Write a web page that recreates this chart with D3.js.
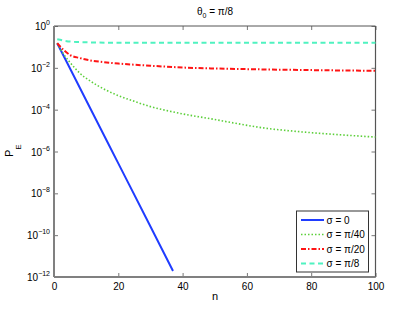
<!DOCTYPE html>
<html><head><meta charset="utf-8">
<script src="https://cdn.jsdelivr.net/npm/d3@7"></script>
<style>body{margin:0;background:#fff}svg{display:block}text{font-family:"Liberation Sans",Arial,sans-serif;fill:#000}</style>
</head><body>
<svg id="c" width="415" height="312"></svg>
<script>
// ---- data ----
const xTicks = [0, 20, 40, 60, 80, 100];
const yTickExps = [0, -2, -4, -6, -8, -10, -12];
const seriesNames = ["σ = 0", "σ = π/40", "σ = π/20", "σ = π/8"];
const nBlue = [1, 10, 20, 30, 37];
const pBlue = [1.5e-1, 2.8e-4, 2.7e-7, 2.6e-10, 1.95e-12];
const nGreen = [1, 3, 5, 8, 11, 16, 20, 25, 30, 35, 42, 50, 55, 65, 77, 89, 100];
const pGreen = [1.5e-1, 4.5e-2, 1.8e-2, 5.6e-3, 2.5e-3, 8.9e-4, 4.7e-4, 2.5e-4, 1.4e-4, 9.1e-5, 5.5e-5, 3.4e-5, 2.45e-5, 1.35e-5, 8.7e-6, 6.3e-6, 4.9e-6];
const nRed = [1, 3, 5, 8, 11, 15, 20, 30, 41, 50, 63, 80, 100];
const pRed = [1.5e-1, 7.1e-2, 4.1e-2, 2.95e-2, 2.3e-2, 1.9e-2, 1.6e-2, 1.26e-2, 1.02e-2, 9.3e-3, 8.5e-3, 7.8e-3, 7.2e-3];
const nCyan = [1, 3, 5, 10, 20, 100];
const pCyan = [2.3e-1, 2.0e-1, 1.8e-1, 1.66e-1, 1.58e-1, 1.58e-1];

// ---- layout ----
const L = 54, R = 375.5, T = 26, B = 277;
const svg = d3.select("#c");
const x = d3.scaleLinear().domain([0, 100]).range([L, R]);
const y = d3.scaleLog().domain([1e-12, 1]).range([B, T]);

const styles = [
  {color: "#1f3cff", dash: null, w: 2},
  {color: "#5ccf3a", dash: "1.5,2", w: 1.6},
  {color: "#ff1414", dash: "5,2,1.5,2", w: 2},
  {color: "#4ff2c0", dash: "5,3.5", w: 2}
];
const data = [
  nBlue.map((n, i) => [n, pBlue[i]]),
  nGreen.map((n, i) => [n, pGreen[i]]),
  nRed.map((n, i) => [n, pRed[i]]),
  nCyan.map((n, i) => [n, pCyan[i]])
];

// axes
const tv = yTickExps.map(e => Math.pow(10, e));
function styleAxis(g) {
  g.select(".domain").remove();
  g.selectAll(".tick line").attr("stroke", "#777").attr("stroke-width", 1);
  g.selectAll(".tick text").attr("font-size", 10).attr("fill", "#000");
}
svg.append("g").attr("transform", `translate(0,${B})`)
  .call(d3.axisBottom(x).tickValues(xTicks).tickSize(-4).tickPadding(6).tickFormat(d3.format("d")))
  .call(styleAxis);
svg.append("g").attr("transform", `translate(0,${T})`)
  .call(d3.axisTop(x).tickValues(xTicks).tickSize(-4).tickFormat(""))
  .call(styleAxis);
const ya = svg.append("g").attr("transform", `translate(${L},0)`)
  .call(d3.axisLeft(y).tickValues(tv).tickSize(-4).tickPadding(5).tickFormat(""))
  .call(styleAxis);
ya.selectAll(".tick").each(function(d, i) {
  const t = d3.select(this).append("text").attr("x", -4).attr("y", 0).attr("dy", "0.35em")
    .attr("text-anchor", "end").attr("font-size", 10);
  t.append("tspan").text("10");
  t.append("tspan").attr("dy", -5).attr("font-size", 7).text(yTickExps[i] === 0 ? "0" : "−" + (-yTickExps[i]));
});
ya.selectAll(".tick text").each(function() {
  const t = d3.select(this); // shift so the string ends at the axis
});
svg.append("g").attr("transform", `translate(${R},0)`)
  .call(d3.axisRight(y).tickValues(tv).tickSize(-4).tickFormat(""))
  .call(styleAxis);

// frame
svg.append("line").attr("x1", L).attr("x2", R).attr("y1", T).attr("y2", T).attr("stroke", "#555").attr("stroke-width", 1);
svg.append("line").attr("x1", R).attr("x2", R).attr("y1", T).attr("y2", B).attr("stroke", "#555").attr("stroke-width", 1.2);
svg.append("line").attr("x1", L).attr("x2", R).attr("y1", B).attr("y2", B).attr("stroke", "#808080").attr("stroke-width", 2);
svg.append("line").attr("x1", L).attr("x2", L).attr("y1", T).attr("y2", B).attr("stroke", "#808080").attr("stroke-width", 2);

// lines
const line = d3.line().x(d => x(d[0])).y(d => y(d[1])).curve(d3.curveMonotoneX);
data.forEach((s, i) => {
  svg.append("path").attr("d", line(s)).attr("fill", "none")
    .attr("stroke", styles[i].color).attr("stroke-width", styles[i].w)
    .attr("stroke-dasharray", styles[i].dash);
});

// title & labels
const title = svg.append("text").attr("x", 215).attr("y", 15).attr("text-anchor", "middle").attr("font-size", 10);
title.append("tspan").text("θ");
title.append("tspan").attr("dy", 3).attr("font-size", 7).text("0");
title.append("tspan").attr("dy", -3).text(" = π/8");
svg.append("text").attr("x", 215).attr("y", 300).attr("text-anchor", "middle").attr("font-size", 11).text("n");
const yl = svg.append("text").attr("transform", "translate(13,157) rotate(-90)").attr("font-size", 11);
yl.append("tspan").text("P");
yl.append("tspan").attr("dy", 8).attr("dx", 0).attr("font-size", 8).text("E");

// legend
const lg = svg.append("g");
lg.append("rect").attr("x", 296.5).attr("y", 211).attr("width", 72).attr("height", 61)
  .attr("fill", "#fff").attr("stroke", "#333").attr("stroke-width", 1);
seriesNames.forEach((name, i) => {
  const yy = 220 + i * 14.5;
  lg.append("line").attr("x1", 301).attr("x2", 324).attr("y1", yy).attr("y2", yy)
    .attr("stroke", styles[i].color).attr("stroke-width", styles[i].w)
    .attr("stroke-dasharray", styles[i].dash);
  lg.append("text").attr("x", 326.5).attr("y", yy).attr("dy", "0.35em").attr("font-size", 10).text(name);
});
</script>
</body></html>
